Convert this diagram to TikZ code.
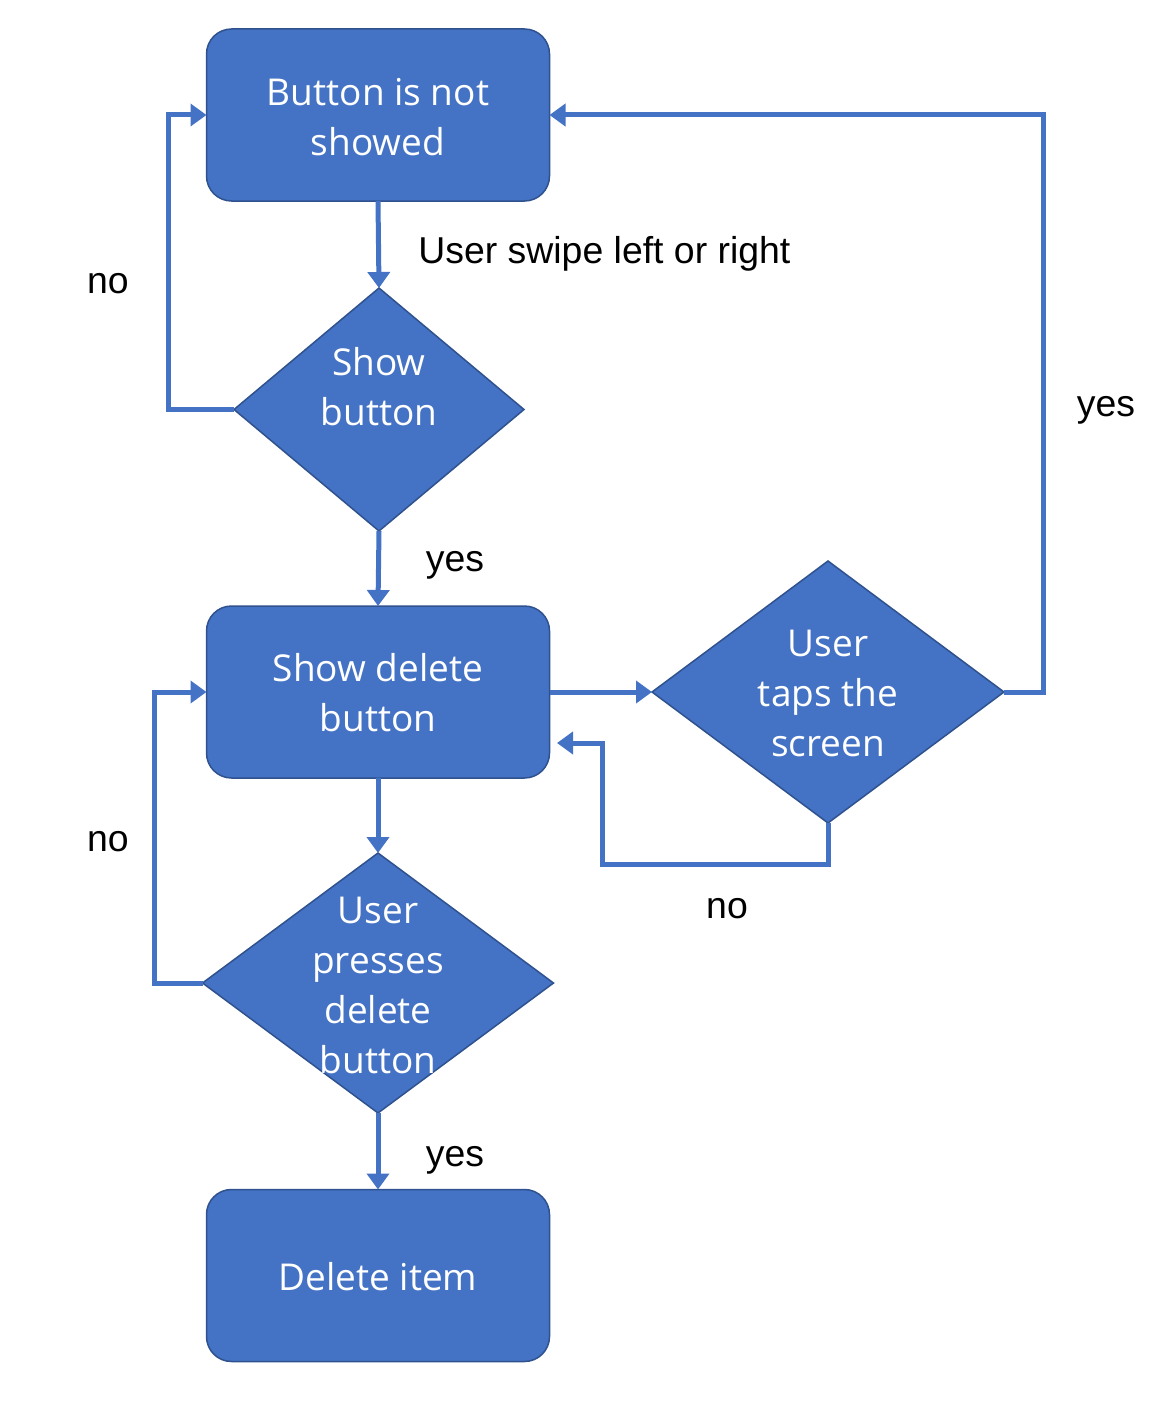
\documentclass[tikz,border=0pt]{standalone}
\usepackage{fontspec}
\setmainfont{Open Sans}
\newfontfamily\lblfont{Liberation Sans}
\usetikzlibrary{shapes.geometric,arrows.meta}
\definecolor{fillblue}{HTML}{4472C4}
\definecolor{edgeblue}{HTML}{2F528F}
\tikzset{
  x=0.5pt, y=-0.5pt,
  boxnode/.style={draw=edgeblue, line width=0.75pt, fill=fillblue, rounded corners=12.5pt,
    minimum width=171.5pt, minimum height=86pt, inner sep=0pt, outer sep=0pt},
  dianode/.style={diamond, draw=edgeblue, line width=0.75pt, fill=fillblue, inner sep=0pt, outer sep=0pt},
  intext/.style={text=white, font=\fontsize{18.5}{25}\selectfont, align=center, inner sep=0pt},
  lbl/.style={font=\lblfont\fontsize{18.7}{22}\selectfont, text=black, anchor=base, inner sep=0pt},
  conn/.style={draw=fillblue, line width=2.5pt, -{Triangle[length=8pt,width=11pt]}},
}
\begin{document}
\begin{tikzpicture}
\useasboundingbox (0,0) rectangle (1158,1402);
% nodes
\node[boxnode] (b1) at (378,115) {};
\node[intext] at (378,117) {Button is not\\showed};
\node[dianode, minimum width=145pt, minimum height=121.5pt] (d1) at (379,409.5) {};
\node[intext] at (379,387) {Show\\button};
\node[boxnode] (b2) at (378,692) {};
\node[intext] at (378,693) {Show delete\\button};
\node[dianode, minimum width=176pt, minimum height=131pt] (d2) at (828,692) {};
\node[intext] at (828,693) {User\\taps the\\screen};
\node[dianode, minimum width=175.5pt, minimum height=130pt] (d3) at (378,983) {};
\node[intext] at (378,985) {User\\presses\\delete\\button};
\node[boxnode] (b3) at (378,1275.5) {};
\node[intext] at (378,1277) {Delete item};
\coordinate (r) at (557,743);
% connectors
\draw[conn] (b1.south) -- (d1.north);
\draw[conn] (d1.west) -- ++(-66,0) |- (b1.west);
\draw[conn] (d1.south) -- (b2.north);
\draw[conn] (b2.east) -- (d2.west);
\draw[conn] (d2.east) -- ++(39,0) |- (b1.east);
\draw[conn] (d2.south) |- (602,864) |- (r);
\draw[conn] (b2.south) -- (d3.north);
\draw[conn] (d3.west) -- ++(-48,0) |- (b2.west);
\draw[conn] (d3.south) -- (b3.north);
% labels
\node[lbl, anchor=base west] (l1) at (418,263) {User swipe left or right};
\node[lbl] (l2) at (108,293) {no};
\node[lbl] (l3) at (455,571) {yes};
\node[lbl] (l4) at (1106,416) {yes};
\node[lbl] (l5) at (108,851) {no};
\node[lbl] (l6) at (727,918) {no};
\node[lbl] (l7) at (455,1166) {yes};
\end{tikzpicture}
\end{document}
